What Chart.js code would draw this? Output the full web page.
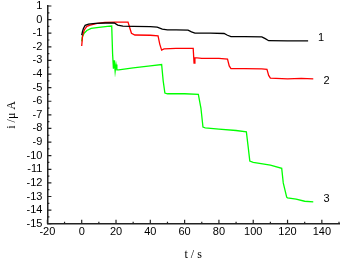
<!DOCTYPE html>
<html>
<head>
<meta charset="utf-8">
<script src="https://cdn.jsdelivr.net/npm/chart.js@4.4.0/dist/chart.umd.min.js"></script>
<style>
html, body { margin: 0; padding: 0; background: #fff; }
#wrap { width: 341px; height: 261px; position: relative; }
</style>
</head>
<body>
<div id="wrap"><canvas id="mycanvas"></canvas></div>
<script>
// curve 1 (black)
var t1 = [0, 0.5, 1, 2, 4, 8, 14, 19, 21, 24, 30, 40, 44, 47, 50, 55, 62, 64, 66, 75, 83, 85, 87, 95, 105, 107, 109, 120, 132];
var i1 = [-1.15, -0.85, -0.65, -0.42, -0.33, -0.27, -0.25, -0.25, -0.4, -0.48, -0.5, -0.52, -0.55, -0.7, -0.76, -0.76, -0.78, -0.9, -1.0, -1.0, -1.02, -1.15, -1.25, -1.25, -1.27, -1.4, -1.55, -1.56, -1.57];
// curve 2 (red)
var t2 = [0, 0.5, 1.5, 3, 5, 9, 13.5, 20, 27, 28, 29, 31, 40, 44.5, 45.5, 46.6, 48, 55, 60, 65, 65.5, 66, 70, 80, 85, 86, 87, 95, 105, 108, 109, 110, 120, 128, 135];
var i2 = [-1.94, -1.2, -0.76, -0.5, -0.4, -0.28, -0.2, -0.18, -0.18, -0.6, -1.0, -1.13, -1.15, -1.2, -1.8, -2.24, -2.15, -2.12, -2.12, -2.12, -3.2, -2.8, -2.85, -2.85, -2.9, -3.4, -3.6, -3.6, -3.62, -3.65, -4.1, -4.3, -4.35, -4.32, -4.35];
// curve 3 (green)
var t3 = [0, 0.3, 1.4, 3, 5.5, 10, 15, 17.5, 18, 18.5, 19, 19.5, 20, 20.5, 21.6, 30, 40, 46.6, 47.5, 48.5, 50, 60, 68, 69.5, 70.7, 72, 80, 90, 96, 97, 98, 100, 110, 116.6, 117.5, 119.5, 120, 125, 130, 135];
var i3 = [-1.6, -1.3, -1.0, -0.8, -0.64, -0.57, -0.5, -0.47, -2.5, -3.6, -3.0, -3.8, -3.3, -3.7, -3.7, -3.55, -3.4, -3.3, -4.5, -5.4, -5.45, -5.45, -5.5, -6.5, -7.9, -7.95, -8.05, -8.15, -8.25, -9.3, -10.4, -10.5, -10.7, -10.93, -12.0, -13.05, -13.1, -13.2, -13.35, -13.4];

var curveNames = ['1', '2', '3'];
var nameT = [139.5, 142.8, 142.8];
var nameI = [-1.33, -4.5, -13.2];

function pts(t, v) {
	return t.map(function(x, k) { return {x: x, y: v[k]}; });
}

// inward major/minor ticks and the curve numbers
var ticksPlugin = {
	id: 'innerTicks',
	afterDraw: function(chart) {
		var c = chart.ctx;
		var xs = chart.scales.x, ys = chart.scales.y;
		var a = chart.chartArea;
		c.save();
		c.strokeStyle = '#222';
		c.lineWidth = 1.2;
		c.beginPath();
		for (var v = -20; v <= 150; v += 10) {
			var px = xs.getPixelForValue(v);
			var len = (v % 20 === 0) ? 4 : 2;
			c.moveTo(px, a.bottom);
			c.lineTo(px, a.bottom - len);
		}
		for (var w = -15; w <= 1; w += 0.5) {
			var py = ys.getPixelForValue(w);
			var l2 = (w % 1 === 0) ? 4 : 2;
			c.moveTo(a.left, py);
			c.lineTo(a.left + l2, py);
		}
		c.stroke();
		c.fillStyle = '#000';
		c.font = '11px "Liberation Sans", Arial, sans-serif';
		c.textAlign = 'center';
		c.textBaseline = 'middle';
		for (var k = 0; k < curveNames.length; k++) {
			c.fillText(curveNames[k], xs.getPixelForValue(nameT[k]), ys.getPixelForValue(nameI[k]));
		}
		c.restore();
	}
};

var ctx = document.getElementById('mycanvas');
var chart = new Chart(ctx, {
	type: 'line',
	data: {
		datasets: [
			{ data: pts(t1, i1), borderColor: '#000000', borderWidth: 1.3, pointRadius: 0, tension: 0 },
			{ data: pts(t2, i2), borderColor: '#ff0000', borderWidth: 1.3, pointRadius: 0, tension: 0 },
			{ data: pts(t3, i3), borderColor: '#00ff00', borderWidth: 1.3, pointRadius: 0, tension: 0 }
		]
	},
	options: {
		responsive: true,
		maintainAspectRatio: false,
		animation: false,
		layout: { padding: { top: 6, right: 2, left: 5.1, bottom: 0.3 } },
		plugins: { legend: { display: false }, tooltip: { enabled: false } },
		scales: {
			x: {
				type: 'linear',
				min: -20,
				max: 150,
				afterFit: function(scale) { scale.height = 37; scale.paddingLeft = 0; scale.paddingRight = 0; },
				grid: { display: false, drawTicks: false },
				border: { display: true, color: '#222', width: 1.5 },
				ticks: {
					stepSize: 20,
					includeBounds: false,
					padding: 2,
					color: '#000',
					font: { family: '"Liberation Sans", Arial, sans-serif', size: 11 },
					maxRotation: 0
				},
				title: {
					display: true,
					text: 't / s',
					color: '#000',
					font: { family: '"Liberation Serif", "Times New Roman", serif', size: 12 },
					padding: { top: 1, bottom: -1 }
				}
			},
			y: {
				min: -15,
				max: 1,
				afterFit: function(scale) { scale.paddingTop = 0; scale.paddingBottom = 0; },
				grid: { display: false, drawTicks: false },
				border: { display: true, color: '#222', width: 1.5 },
				ticks: {
					stepSize: 1,
					autoSkip: false,
					padding: 5,
					color: '#000',
					font: { family: '"Liberation Sans", Arial, sans-serif', size: 11 }
				},
				title: {
					display: true,
					text: 'i /μ A',
					color: '#000',
					font: { family: '"Liberation Serif", "Times New Roman", serif', size: 12 },
					padding: { top: 0, bottom: 2 }
				}
			}
		}
	},
	plugins: [ticksPlugin]
});
</script>
</body>
</html>
